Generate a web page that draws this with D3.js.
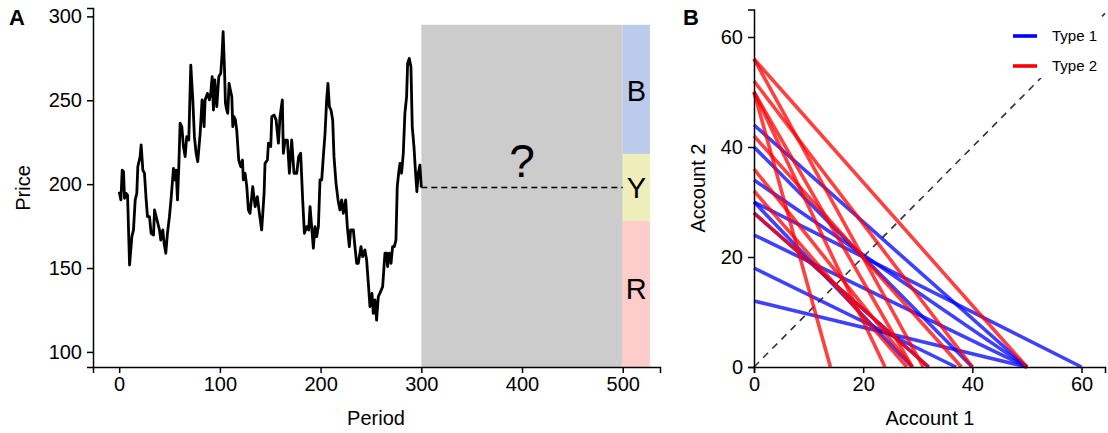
<!DOCTYPE html>
<html><head><meta charset="utf-8">
<script src="https://cdn.jsdelivr.net/npm/d3@7"></script>
<style>body{margin:0;background:#fff} text{font-family:"Liberation Sans", Arial, Helvetica, sans-serif}</style>
</head><body><svg id="c" width="1108" height="433"></svg>
<script>
// ---------- Panel A data ----------
const periods = [0,1.7,3,4.3,5.3,6.9,8.3,10.3,12.6,14.2,15.9,17.5,18.5,20.8,21.8,23.5,25.1,26.8,28.1,30.1,31.7,34.1,35.1,36.7,38.4,40,41.3,43.3,44.6,46.3,47.9,49.9,51.6,53.9,55.6,56.5,57.9,59.2,60.5,62.2,63.8,65.5,67.1,69.1,71.1,73.1,74.7,76.4,78,80.4,82.3,84.3,85.3,87.6,89.6,90.9,92.3,93.6,94.9,96.9,98.9,100.9,102.2,103.2,104.5,105.5,106.8,107.8,109.1,110.4,111.8,112.8,114.1,115.4,116.7,118.7,120.7,122.4,123.3,125,126.7,128.3,129.9,132.6,135,137.2,139.2,141.5,143.9,144.8,147.2,148.2,150.5,151.5,153.8,155.8,158.1,159.7,162,163,164.7,167,169,171.3,173.6,176.3,178.2,180.2,182.2,183.9,186.2,188.2,189.5,191.1,192.8,194.4,196.1,197.8,199.4,201.1,202.7,204.4,206,207.3,208.7,210.3,212,213.3,215.3,217.3,219.2,220.9,222.6,224.9,226.5,228.5,229.8,232.5,234.1,235.8,237.4,240.1,241.7,244,245.7,247.4,249,251,252.3,254,255.6,257.3,258.9,261.6,263.9,265.6,266.5,268.2,269.9,271.5,273.2,274.8,276.1,277.5,278.8,280.4,282.1,283.7,285.4,286.4,288,289.7,291,292.7,294.3,295.6,297,298.6,300];
const prices = [195.5,190.6,208.4,207.5,191.6,194.5,193.5,151.8,168.7,172.7,190.6,194.6,210.4,216.4,223.4,208.4,206.5,190.6,180.6,180.6,170.7,169.7,184.6,180.6,176.7,172.7,166.7,172.7,164.8,158.8,170.7,180.6,191.6,209.4,202.5,208.4,190.6,210.4,236.3,234.3,222.4,216.4,228.3,226.3,271,250.2,228.3,218.4,213.4,230.3,250.2,234.3,250.2,254.1,250.2,254.1,264.1,244.2,262.1,246.2,264.1,266.1,278,290.9,270,248.2,244.2,242.2,260.1,256.1,252.2,234.3,240.2,238.3,232.3,214.4,210.4,214.4,202.5,206.5,198.5,184.6,182.6,198.5,186.6,192.6,182.6,172.7,194.6,212.4,214.4,224.4,222.4,240.2,241.2,238.3,224.4,240.2,250.2,218.4,226.3,226.3,206.5,226.3,206.5,206.5,216.4,218.4,190.6,170.7,174.7,172.7,186.6,174.7,161.8,174.7,168.7,174.7,202.5,202.5,216.4,230.3,250.2,260.1,246.2,244.2,238.3,216.4,200.5,190.6,184.6,190.6,182.6,190.6,174.7,162.8,172.7,172.7,162.8,152.8,152.8,162.8,156.8,160.8,154.8,140.9,127,134.9,123,131,119,133,135,138.9,158.8,158.8,150.9,158.8,152.8,162.8,162.8,166.7,198.5,206.5,212.4,206.5,218.4,242.2,252.2,272,275,270,234.3,222.4,206.5,195.5,206.5,211.4,198];
const xTicksA = [0,100,200,300,400,500];
const yTicksA = [100,150,200,250,300];
const forecastStart = 300, forecastEnd = 500, bandEnd = 527;
const lastPrice = 198;
const bandNames = ["B","Y","R"];
const bandLow  = [218, 178, 91];
const bandHigh = [295, 218, 178];
const bandLabelAt = [256, 198, 138];
const bandColors = ["#bccbeb","#eeeebb","#ffcccc"];

// ---------- Panel B data (each budget line: Account 2 intercept -> Account 1 intercept) ----------
const type1Account2 = [44,40,34,30,30,28,24,18,12];
const type1Account1 = [50,40,50,60,29,32,50,37,50];
const type2Account2 = [56,56,52,50,50,50,42,36,32,28];
const type2Account1 = [50,31,40,14,24,29,38,29,28,32];
const xTicksB = [0,20,40,60];
const yTicksB = [0,20,40,60];
const legendNames = ["Type 1","Type 2"];
const legendColors = ["#0000ff","#ff0000"];

const svg = d3.select("#c");
const font = 20;

// ---------- Panel A ----------
const xA = d3.scaleLinear().domain([-26, 537]).range([93, 660]);
const yA = d3.scaleLinear().domain([91, 305]).range([367, 8]);
const gA = svg.append("g");

gA.append("rect").attr("x", xA(forecastStart)).attr("width", xA(forecastEnd)-xA(forecastStart))
  .attr("y", yA(bandHigh[0])).attr("height", yA(bandLow[2]) - yA(bandHigh[0])).attr("fill", "#cccccc");
bandNames.forEach((n,i)=>{
  gA.append("rect").attr("x", xA(forecastEnd)).attr("width", xA(bandEnd)-xA(forecastEnd))
    .attr("y", yA(bandHigh[i])).attr("height", yA(bandLow[i]) - yA(bandHigh[i])).attr("fill", bandColors[i]);
  gA.append("text").attr("x", (xA(forecastEnd)+xA(bandEnd))/2).attr("y", yA(bandLabelAt[i]))
    .attr("dy","0.36em").attr("text-anchor","middle").attr("font-size",29).text(n);
});
gA.append("text").attr("x", xA((forecastStart+forecastEnd)/2)).attr("y", 177)
  .attr("text-anchor","middle").attr("font-size",46).text("?");
gA.append("line").attr("x1", xA(forecastStart)).attr("x2", xA(forecastEnd))
  .attr("y1", yA(lastPrice)).attr("y2", yA(lastPrice))
  .attr("stroke","#000").attr("stroke-width",1.6).attr("stroke-dasharray","6,4");

const lineA = d3.line().x((d,i)=>xA(periods[i])).y(d=>yA(d));
gA.append("path").datum(prices).attr("d", lineA).attr("fill","none")
  .attr("stroke","#000").attr("stroke-width",2.8).attr("stroke-linejoin","round");

gA.append("g").attr("transform","translate(0,367)")
  .call(d3.axisBottom(xA).tickValues(xTicksA).tickSizeOuter(0).tickSize(6).tickPadding(4));
gA.append("g").attr("transform","translate(93,0)")
  .call(d3.axisLeft(yA).tickValues(yTicksA).tickSizeOuter(0).tickSize(6).tickPadding(5));

gA.append("text").attr("x", 376).attr("y", 425).attr("text-anchor","middle").attr("font-size",font).text("Period");
gA.append("text").attr("transform","translate(30,188) rotate(-90)").attr("text-anchor","middle").attr("font-size",font).text("Price");
gA.append("text").attr("x", 9).attr("y", 25).attr("font-size",22).attr("font-weight","bold").text("A");

// ---------- Panel B ----------
const xB = d3.scaleLinear().domain([0, 64.3]).range([754, 1105]);
const yB = d3.scaleLinear().domain([0, 65]).range([367, 9.5]);
const gB = svg.append("g");

gB.append("line").attr("x1", xB(0)).attr("y1", yB(0)).attr("x2", xB(64.3)).attr("y2", yB(64.3))
  .attr("stroke","#333").attr("stroke-width",1.6).attr("stroke-dasharray","7,6");

function drawLines(a2, a1, color){
  a2.forEach((v,i)=>{
    gB.append("line").attr("x1", xB(0)).attr("y1", yB(v)).attr("x2", xB(a1[i])).attr("y2", yB(0))
      .attr("stroke", color).attr("stroke-width",3.6).attr("stroke-opacity",0.75);
  });
}
drawLines(type1Account2, type1Account1, legendColors[0]);
drawLines(type2Account2, type2Account1, legendColors[1]);

gB.append("rect").attr("x",1003).attr("y",18).attr("width",100).attr("height",60).attr("fill","#fff");
legendNames.forEach((n,i)=>{
  const y = 36 + i*30;
  gB.append("line").attr("x1",1013).attr("x2",1037).attr("y1",y).attr("y2",y)
    .attr("stroke",legendColors[i]).attr("stroke-width",3.6);
  gB.append("text").attr("x",1052).attr("y",y).attr("dy","0.36em").attr("font-size",15).text(n);
});

gB.append("g").attr("transform","translate(0,367)")
  .call(d3.axisBottom(xB).tickValues(xTicksB).tickSizeOuter(0).tickSize(6).tickPadding(4));
gB.append("g").attr("transform","translate(754,0)")
  .call(d3.axisLeft(yB).tickValues(yTicksB).tickSizeOuter(0).tickSize(6).tickPadding(5));

gB.append("text").attr("x", 930).attr("y", 425).attr("text-anchor","middle").attr("font-size",font).text("Account 1");
gB.append("text").attr("transform","translate(705,188) rotate(-90)").attr("text-anchor","middle").attr("font-size",font).text("Account 2");
gB.append("text").attr("x", 683).attr("y", 25).attr("font-size",22).attr("font-weight","bold").text("B");

svg.selectAll(".tick text").attr("font-size",font).attr("font-family",'"Liberation Sans", Arial, sans-serif').attr("fill","#000");
svg.selectAll(".domain, .tick line").attr("stroke","#000").attr("stroke-width",1.5);
</script></body></html>
